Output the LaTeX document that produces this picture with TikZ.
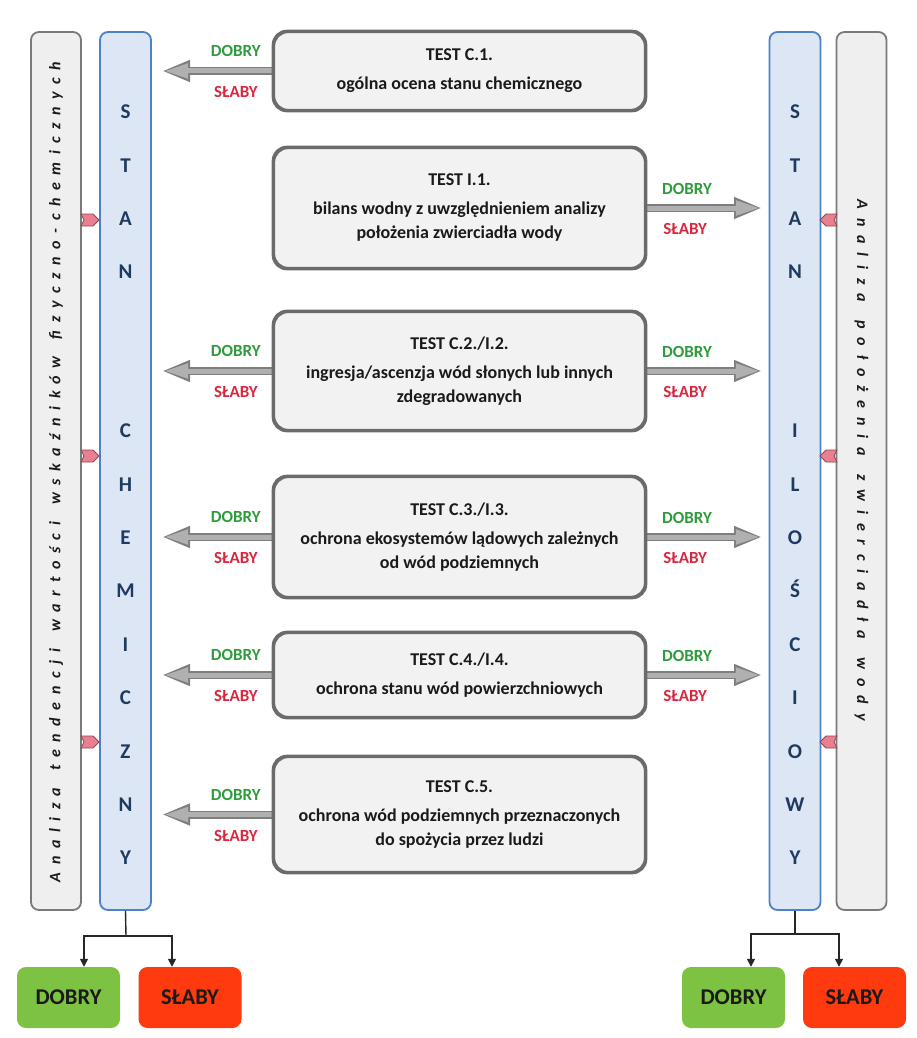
\documentclass[tikz,border=0pt]{standalone}
\usepackage{fontspec}
\setmainfont{Carlito}
\usetikzlibrary{arrows.meta,calc}
\definecolor{boxfill}{HTML}{F2F2F2}
\definecolor{boxline}{HTML}{6B6B6B}
\definecolor{greyfill}{HTML}{EFEFEF}
\definecolor{greyline}{HTML}{7A7A7A}
\definecolor{barblue}{HTML}{DCE6F4}
\definecolor{barblueline}{HTML}{4F81C7}
\definecolor{lettercol}{HTML}{1F3A5F}
\definecolor{goodgreen}{HTML}{2E9B3C}
\definecolor{badred}{HTML}{D82840}
\definecolor{greenbox}{HTML}{7DC242}
\definecolor{redbox}{HTML}{FF3A0F}
\definecolor{pinkfill}{HTML}{E8808F}
\definecolor{pinkline}{HTML}{8A4A55}
\definecolor{arrowgrey}{HTML}{B0B0B0}
\definecolor{arrowedge}{HTML}{7E7E7E}
\definecolor{textdark}{HTML}{1A1A1A}
\newcommand\wsp{\hspace{6pt} }
\begin{document}
\begin{tikzpicture}[x=1pt,y=-1pt,
  testbox/.style={draw=boxline, line width=2.3pt, fill=boxfill, rounded corners=14pt,
    minimum width=371pt, align=center, inner sep=0pt, text=textdark,
    font=\bfseries\fontsize{18}{24}\selectfont},
  greybar/.style={draw=greyline, line width=1.8pt, fill=greyfill, rounded corners=8pt,
    minimum width=50pt, minimum height=878pt, inner sep=0pt},
  bluebar/.style={draw=barblueline, line width=1.8pt, fill=barblue, rounded corners=8pt,
    minimum width=51pt, minimum height=878pt, inner sep=0pt},
  barletter/.style={text=lettercol, font=\bfseries\fontsize{21}{21}\selectfont,
    text height=13.5pt, text depth=0pt, inner sep=0pt},
  sidetext/.style={text=textdark, inner sep=0pt,
    font=\bfseries\itshape\fontsize{16}{16}\selectfont},
  good/.style={text=goodgreen, font=\bfseries\fontsize{17}{17}\selectfont,
    text height=11pt, text depth=0pt, inner sep=0pt},
  bad/.style={text=badred, font=\bfseries\fontsize{17}{17}\selectfont,
    text height=11pt, text depth=0pt, inner sep=0pt},
  arrowout/.style={line width=8pt, draw=arrowedge, -{Triangle[length=28pt,width=20pt]}},
  arrowin/.style={line width=5pt, draw=arrowgrey, shorten >=2.2pt, shorten <=1pt,
    -{Triangle[length=24pt,width=14pt]}},
  resgood/.style={fill=greenbox, rounded corners=9pt, minimum width=103pt, minimum height=61pt,
    inner sep=0pt, text=textdark, font=\bfseries\fontsize{22.5}{22.5}\selectfont},
  resbad/.style={resgood, fill=redbox},
  branch/.style={draw=black!85, line width=1.4pt},
  brancharrow/.style={branch, -{Triangle[length=8pt,width=8pt]}},
  connector/.style={fill=pinkfill, draw=pinkline, line width=0.8pt, line join=miter}
]
\useasboundingbox (0,0) rectangle (916,1038);

% side bars
\node[greybar] (lg) at (56,471) {};
\node[bluebar] (lb) at (125.5,471) {};
\node[bluebar] (rb) at (795,471) {};
\node[greybar] (rg) at (861.5,471) {};

\node[sidetext, rotate=90] (lt) at (56,472)
  {\addfontfeature{LetterSpace=47.4}Analiza\wsp tendencji\wsp wartości\wsp wskaźników\wsp fizyczno-chemicznych};
\node[sidetext, rotate=-90] (rt) at (861.5,460)
  {\addfontfeature{LetterSpace=55.6}Analiza\wsp położenia\wsp zwierciadła\wsp wody};

% bar letters
\foreach \l [count=\i] in {S,T,A,N}
  \node[barletter] (lbt\i) at (125.5,{112+53.4*(\i-1)}) {\l};
\foreach \l [count=\i] in {C,H,E,M,I,C,Z,N,Y}
  \node[barletter] (lbb\i) at (125.5,{431+53.4*(\i-1)}) {\l};
\foreach \l [count=\i] in {S,T,A,N}
  \node[barletter] (rbt\i) at (795,{112+53.4*(\i-1)}) {\l};
\foreach \l [count=\i] in {I,L,O,Ś,C,I,O,W,Y}
  \node[barletter] (rbb\i) at (795,{431+53.4*(\i-1)}) {\l};

% pink connectors
\foreach \y in {220,456,742}{
  \draw[connector] (81,\y-6) -- (93,\y-6) -- (99,\y) -- (93,\y+6) -- (81,\y+6) -- (84,\y) -- cycle;
  \draw[connector] (837,\y-6) -- (826,\y-6) -- (820,\y) -- (826,\y+6) -- (837,\y+6) -- (834,\y) -- cycle;
}

% test boxes
\node[testbox, minimum height=78pt]  (c1) at (459.5,71)  {TEST C.1.\\[5pt]ogólna ocena stanu chemicznego};
\node[testbox, minimum height=120pt] (i1) at (459.5,208) {TEST I.1.\\[5pt]bilans wodny z uwzględnieniem analizy\\położenia zwierciadła wody};
\node[testbox, minimum height=118pt] (c2) at (459.5,371) {TEST C.2./I.2.\\[5pt]ingresja/ascenzja wód słonych lub innych\\zdegradowanych};
\node[testbox, minimum height=120pt] (c3) at (459.5,537) {TEST C.3./I.3.\\[5pt]ochrona ekosystemów lądowych zależnych\\od wód podziemnych};
\node[testbox, minimum height=84pt]  (c4) at (459.5,675) {TEST C.4./I.4.\\[5pt]ochrona stanu wód powierzchniowych};
\node[testbox, minimum height=115pt] (c5) at (459.5,814.5) {TEST C.5.\\[5pt]ochrona wód podziemnych przeznaczonych\\do spożycia przez ludzi};

% arrow tips
\coordinate (ltip) at (162,0);
\coordinate (rtip) at (762,0);

\foreach \b in {c1,c2,c3,c4,c5}{
  \draw[arrowout] (\b.west) -- (\b.west -| ltip);
  \draw[arrowin] (\b.west) -- (\b.west -| ltip);
  \node[good] (\b gl) at ($(\b.west)+(-37,-20)$) {DOBRY};
  \node[bad] (\b bl) at ($(\b.west)+(-37,21)$) {SŁABY};
}
\foreach \b in {i1,c2,c3,c4}{
  \draw[arrowout] (\b.east) -- (\b.east -| rtip);
  \draw[arrowin] (\b.east) -- (\b.east -| rtip);
  \node[good] (\b gr) at ($(\b.east)+(41,-19)$) {DOBRY};
  \node[bad] (\b br) at ($(\b.east)+(39,21)$) {SŁABY};
}

% redraw box borders over arrow starts
\foreach \b in {c1,i1,c2,c3,c4,c5}
  \draw[draw=boxline, line width=2.3pt, rounded corners=14pt] (\b.south west) rectangle (\b.north east);

% result boxes
\node[resgood] (ld) at (68.5,997.5) {DOBRY};
\node[resbad]  (ls) at (190,997.5) {SŁABY};
\node[resgood] (rd) at (733.5,997.5) {DOBRY};
\node[resbad]  (rs) at (854.5,997.5) {SŁABY};

\coordinate (lj) at (126,936);
\coordinate (rj) at (795,934);
\draw[branch] (lb.south) -- (lj);
\draw[brancharrow] (lj) -| ([xshift=15.5pt]ld.north);
\draw[brancharrow] (lj) -| ([xshift=-18pt]ls.north);
\draw[branch] (rb.south) -- (rj);
\draw[brancharrow] (rj) -| ([xshift=17.5pt]rd.north);
\draw[brancharrow] (rj) -| ([xshift=-15.5pt]rs.north);
\end{tikzpicture}
\end{document}
